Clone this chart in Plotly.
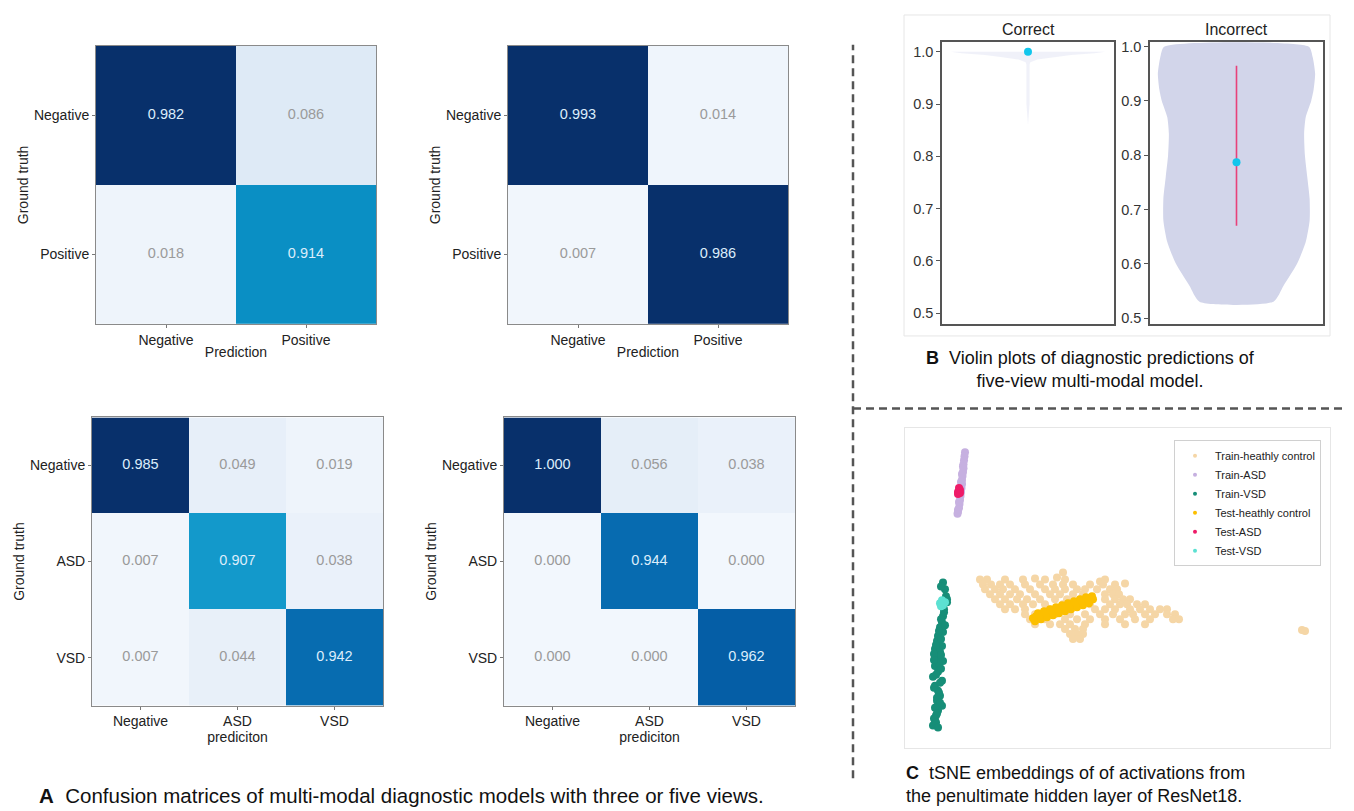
import plotly.graph_objects as go

# page is 1354x811; the browser adds an 8px body margin, so positions are given in page pixels
OFF = 8
FW, FH = 1354 - OFF, 811 - OFF

# ---------------- data: confusion matrices ----------------
cm2_labels = ["Negative", "Positive"]
cm3_labels = ["Negative", "ASD", "VSD"]
cm_three_view_bin = [[0.982, 0.086], [0.018, 0.914]]
cm_five_view_bin = [[0.993, 0.014], [0.007, 0.986]]
cm_three_view_multi = [[0.985, 0.049, 0.019], [0.007, 0.907, 0.038], [0.007, 0.044, 0.942]]
cm_five_view_multi = [[1.000, 0.056, 0.038], [0.000, 0.944, 0.000], [0.000, 0.000, 0.962]]

# ---------------- data: violin profiles ----------------
correct_y = [1.0, 0.997, 0.994, 0.99, 0.985, 0.98, 0.975, 0.9, 0.86]
correct_density = [0.99, 0.85, 0.55, 0.35, 0.12, 0.03, 0.02, 0.02, 0.0]
correct_median = 1.0
incorrect_y = [1.0, 0.98, 0.95, 0.92, 0.9, 0.87, 0.84, 0.8, 0.76, 0.72, 0.68, 0.64, 0.6, 0.56, 0.53]
incorrect_density = [0.92, 0.97, 1.0, 0.98, 0.95, 0.88, 0.86, 0.87, 0.9, 0.93, 0.93, 0.88, 0.77, 0.6, 0.47]
incorrect_range = [0.67, 0.965]
incorrect_median = 0.787

# ---------------- data: tSNE embeddings ----------------
train_vsd_x = [38, 40, 41, 42, 39, 38, 37, 35, 38, 33, 32, 37, 30, 35, 32, 38, 30, 33, 28, 37, 30, 33, 35, 32, 37, 33, 31, 30, 28,
               36, 42, 39, 36, 34, 40, 31, 36, 29, 34, 36, 31, 35, 29, 34, 32, 35, 30, 32, 29, 31, 33, 36, 29]
train_vsd_y = [167, 160, 153, 147, 140, 133, 127, 122, 117, 113, 108, 103, 100, 97, 92, 88, 83, 77, 72, 68, 63, 58, 53, 48, 43, 38, 33, 28, 23,
               163, 150, 137, 130, 118, 124, 104, 110, 95, 86, 80, 74, 66, 61, 56, 51, 46, 41, 35, 30, 26, 21, 94, 89]
test_vsd_x = [35, 38, 40, 37, 36]
test_vsd_y = [146, 144, 147, 149, 143]
train_asd_x = [60, 59.5, 59, 58.5, 58.5, 58, 57.5, 57, 57, 56.5, 56, 55.5, 55, 54.5, 54, 53, 52.5, 58, 56, 55, 54, 57, 53]
train_asd_y = [298, 294, 290, 286, 282, 278, 274, 270, 266, 262, 258, 254, 250, 246, 242, 238, 236, 284, 268, 256, 248, 276, 240]
test_asd_x = [53, 55, 54, 53, 55]
test_asd_y = [258, 260, 262, 256, 257]
train_hc_x = [75, 82, 100, 118, 130, 140, 152, 160, 195, 200, 158, 220,
              78, 86, 95, 105, 120, 135, 148, 158, 168, 185, 198, 210,
              80, 90, 98, 110, 125, 140, 150, 160, 172, 180, 192, 205, 212,
              85, 95, 105, 115, 130, 145, 155, 168, 178, 200, 208, 214,
              90, 100, 112, 122, 135, 150, 162, 175, 200, 210, 218, 225,
              95, 105, 118, 128, 140, 158, 170, 185, 205, 215, 222, 232, 240,
              100, 110, 120, 145, 160, 190, 200, 210, 225, 235, 245, 255, 262,
              120, 130, 150, 165, 180, 195, 208, 220, 228, 240, 250, 262, 270,
              125, 140, 160, 172, 185, 200, 215, 230, 245, 268, 274,
              130, 145, 155, 165, 180, 200, 220, 240,
              160, 170, 178, 165, 172, 178, 168, 175,
              397, 400]
train_hc_y = [170, 170, 170, 170, 171, 170, 172, 170, 168, 170, 177, 166,
              165, 165, 165, 165, 165, 165, 165, 165, 165, 165, 165, 165,
              160, 160, 160, 160, 160, 160, 160, 160, 160, 160, 160, 160, 160,
              155, 155, 155, 155, 155, 155, 155, 155, 155, 155, 155, 155,
              150, 150, 150, 150, 150, 150, 150, 150, 150, 150, 150, 150,
              145, 145, 145, 145, 145, 145, 145, 145, 145, 145, 145, 145, 145,
              140, 140, 140, 140, 140, 140, 140, 140, 140, 140, 140, 140, 140,
              135, 135, 135, 135, 135, 135, 135, 135, 135, 135, 135, 135, 135,
              130, 130, 130, 130, 130, 130, 130, 130, 130, 130, 130,
              125, 125, 125, 125, 125, 125, 125, 125,
              120, 120, 120, 115, 115, 115, 110, 110,
              119, 118]
test_hc_x = [128, 131, 134, 137, 140, 143, 146, 149, 152, 155, 158, 161, 164, 167, 170, 173, 176, 179, 182, 185, 188,
             130, 136, 142, 148, 154, 160, 166, 172, 178, 184,
             133, 139, 145, 151, 157, 163, 169, 175, 181, 187]
test_hc_y = [131, 133, 132, 135, 134, 137, 136, 139, 138, 141, 140, 143, 142, 145, 144, 147, 146, 149, 148, 151, 150,
             128, 130, 132, 134, 136, 138, 140, 142, 144, 146,
             136, 138, 140, 142, 144, 146, 148, 150, 152, 153]

tsne_names = ["Train-heathly control", "Train-ASD", "Train-VSD", "Test-heathly control", "Test-ASD", "Test-VSD"]
tsne_colors = ["#f5d6a6", "#c6b0e0", "#178e78", "#fcbf00", "#ee1b68", "#5ce1d2"]

# ---------------- helpers ----------------
def PX(px):
    return (px - OFF) / FW

def PY(py):
    return 1 - (py - OFF) / FH

def dom_x(a, b):
    return [PX(a), PX(b)]

def dom_y(top, bottom):
    return [PY(bottom), PY(top)]

FONT = "Arial, Liberation Sans, Helvetica, sans-serif"
cscale = [[0.0, "#f2f7fd"], [0.02, "#eef4fb"], [0.06, "#e4edf8"], [0.09, "#dde9f6"],
          [0.5, "#6aaed6"], [0.9, "#1ca2d2"], [0.914, "#0a8fc4"], [0.94, "#076db1"],
          [0.96, "#0563ab"], [0.975, "#083f88"], [0.982, "#08306b"], [1.0, "#08306b"]]

fig = go.Figure()
layout = {}

cms = [
    (cm_three_view_bin, cm2_labels, "Prediction", (96, 376), (43, 323)),
    (cm_five_view_bin, cm2_labels, "Prediction", (508, 788), (43, 323)),
    (cm_three_view_multi, cm3_labels, "prediciton", (92, 383), (417, 707)),
    (cm_five_view_multi, cm3_labels, "prediciton", (504, 795), (417, 707)),
]

for i, (m, labels, xtitle, xd, yd) in enumerate(cms):
    n = i + 1
    xa = "x" if n == 1 else f"x{n}"
    ya = "y" if n == 1 else f"y{n}"
    fig.add_trace(go.Heatmap(z=m, x=labels, y=labels, colorscale=cscale, zmin=0, zmax=1,
                             showscale=False, hoverinfo="skip", xaxis=xa, yaxis=ya))
    tx, ty, tt, tc = [], [], [], []
    for r, row in enumerate(m):
        for c, v in enumerate(row):
            tx.append(labels[c]); ty.append(labels[r]); tt.append(f"{v:.3f}")
            tc.append("#dcedfb" if v > 0.5 else "#9a9a9a")
    fig.add_trace(go.Scatter(x=tx, y=ty, text=tt, mode="text", textfont=dict(size=14.5, color=tc, family=FONT),
                             showlegend=False, hoverinfo="skip", xaxis=xa, yaxis=ya))
    axname = "xaxis" if n == 1 else f"xaxis{n}"
    ayname = "yaxis" if n == 1 else f"yaxis{n}"
    layout[axname] = dict(domain=dom_x(*xd), anchor=ya, showline=True, mirror=True, linecolor="#8a8a8a",
                          linewidth=1, ticks="outside", ticklen=3, tickcolor="#777", showgrid=False, zeroline=False,
                          tickfont=dict(size=14, color="#222", family=FONT),
                          title=dict(text=xtitle, standoff=0, font=dict(size=14, color="#222", family=FONT)))
    layout[ayname] = dict(domain=dom_y(*yd), anchor=xa, showline=True, mirror=True, linecolor="#8a8a8a",
                          linewidth=1, ticks="outside", ticklen=3, tickcolor="#777", showgrid=False, zeroline=False,
                          autorange="reversed", tickfont=dict(size=14, color="#222", family=FONT),
                          title=dict(text="Ground truth", standoff=2, font=dict(size=14, color="#222", family=FONT)))

# ---------------- violins ----------------
def violin_outline(ys, dens):
    xs = list(dens) + [-d for d in reversed(dens)]
    yy = list(ys) + list(reversed(ys))
    return xs + [xs[0]], yy + [yy[0]]

vx, vy = violin_outline(correct_y, correct_density)
fig.add_trace(go.Scatter(x=vx, y=vy, fill="toself", fillcolor="rgba(205,209,234,0.3)", mode="lines",
                         line=dict(width=0), showlegend=False, hoverinfo="skip", xaxis="x5", yaxis="y5"))
fig.add_trace(go.Scatter(x=[0], y=[correct_median], mode="markers", marker=dict(size=8, color="#12c6ec"),
                         showlegend=False, hoverinfo="skip", xaxis="x5", yaxis="y5"))

vx, vy = violin_outline(incorrect_y, incorrect_density)
fig.add_trace(go.Scatter(x=vx, y=vy, fill="toself", fillcolor="#d2d5ea", mode="lines",
                         line=dict(width=0, shape="spline", smoothing=0.6), showlegend=False, hoverinfo="skip",
                         xaxis="x6", yaxis="y6"))
fig.add_trace(go.Scatter(x=[0, 0], y=incorrect_range, mode="lines", line=dict(color="#e8417a", width=1.6),
                         showlegend=False, hoverinfo="skip", xaxis="x6", yaxis="y6"))
fig.add_trace(go.Scatter(x=[0], y=[incorrect_median], mode="markers", marker=dict(size=8, color="#12c6ec"),
                         showlegend=False, hoverinfo="skip", xaxis="x6", yaxis="y6"))

vio_common_x = dict(range=[-1.1, 1.1], showticklabels=False, ticks="", showgrid=False, zeroline=False,
                    showline=True, mirror=True, linecolor="#555", linewidth=1.5)
vio_common_y = dict(tickvals=[0.5, 0.6, 0.7, 0.8, 0.9, 1.0], tickformat=".1f", ticks="outside", ticklen=4,
                    tickcolor="#555", showgrid=False, zeroline=False, showline=True, mirror=True,
                    linecolor="#555", linewidth=1.5, tickfont=dict(size=14.5, color="#333", family=FONT))
layout["xaxis5"] = dict(domain=dom_x(942, 1114), anchor="y5", **vio_common_x)
layout["yaxis5"] = dict(domain=dom_y(39, 323), anchor="x5", range=[0.479, 1.019], **vio_common_y)
layout["xaxis6"] = dict(domain=dom_x(1150, 1323), anchor="y6", **vio_common_x)
layout["yaxis6"] = dict(domain=dom_y(39, 323), anchor="x6", range=[0.489, 1.009], **vio_common_y)

# ---------------- tSNE ----------------
tsne_data = [(train_hc_x, train_hc_y), (train_asd_x, train_asd_y), (train_vsd_x, train_vsd_y),
             (test_hc_x, test_hc_y), (test_asd_x, test_asd_y), (test_vsd_x, test_vsd_y)]
for (xs, ys), name, col in zip(tsne_data, tsne_names, tsne_colors):
    fig.add_trace(go.Scatter(x=xs, y=ys, mode="markers", marker=dict(size=8, color=col, line=dict(width=0)),
                             name=name, showlegend=False, hoverinfo="skip", xaxis="x7", yaxis="y7"))
for name, col in zip(tsne_names, tsne_colors):
    fig.add_trace(go.Scatter(x=[None], y=[None], mode="markers", marker=dict(size=4, color=col),
                             name=name, showlegend=True, xaxis="x7", yaxis="y7"))

layout["xaxis7"] = dict(domain=dom_x(905, 1330), anchor="y7", range=[0, 425],
                        showticklabels=False, ticks="", showgrid=False, zeroline=False,
                        showline=True, mirror=True, linecolor="#e6e6e6", linewidth=1)
layout["yaxis7"] = dict(domain=dom_y(428, 750), anchor="x7", range=[0, 322],
                        showticklabels=False, ticks="", showgrid=False, zeroline=False,
                        showline=True, mirror=True, linecolor="#e6e6e6", linewidth=1)

# ---------------- decorations ----------------
DASH = dict(color="#555", width=2.5, dash="8px,5px")
shapes = [
    dict(type="rect", xref="paper", yref="paper", x0=PX(904), x1=PX(1330), y0=PY(335), y1=PY(12),
         line=dict(color="#e6e6e6", width=1), layer="below"),
    dict(type="line", xref="paper", yref="paper", x0=PX(853), x1=PX(853), y0=PY(780), y1=PY(42), line=DASH),
    dict(type="line", xref="paper", yref="paper", x0=PX(853), x1=PX(1354), y0=PY(408), y1=PY(408), line=DASH),
]

def ann(text, x, y, size, xanchor="center", align="center", color="#111"):
    return dict(text=text, x=PX(x), y=PY(y), xref="paper", yref="paper", showarrow=False,
                xanchor=xanchor, yanchor="middle", align=align, font=dict(size=size, color=color, family=FONT))

annotations = [
    ann("Correct", 1028, 27, 16, color="#222"),
    ann("Incorrect", 1236, 27, 16, color="#222"),
    ann("<b>A</b>  Confusion matrices of multi-modal diagnostic models with three or five views.", 37, 797, 20.5,
        xanchor="left", align="left"),
    ann("<b>B</b>  Violin plots of diagnostic predictions of<br>five-view multi-modal model.", 1090, 369, 18),
    ann("<b>C</b>  tSNE embeddings of of activations from<br>the penultimate hidden layer of ResNet18.", 904, 786, 18,
        xanchor="left", align="left"),
]

fig.update_layout(
    width=FW, height=FH, margin=dict(l=0, r=0, t=0, b=0),
    paper_bgcolor="white", plot_bgcolor="white",
    showlegend=True,
    legend=dict(x=PX(1174), y=PY(440), xanchor="left", yanchor="top", bgcolor="white",
                bordercolor="#d0d0d0", borderwidth=1, font=dict(size=11, color="#222", family=FONT),
                tracegroupgap=0, itemwidth=30),
    shapes=shapes, annotations=annotations, **layout,
)

fig.write_html("out.html")
